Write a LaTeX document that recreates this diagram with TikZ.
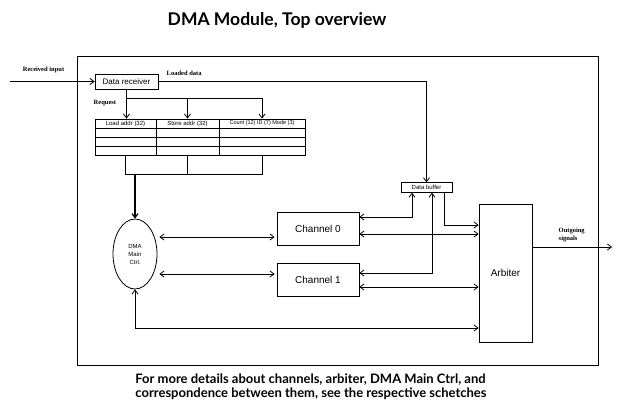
\documentclass[tikz,border=0pt]{standalone}
\usepackage{fontspec}
\setmainfont{Liberation Sans}
\newfontfamily\headfont{Lato}
\newfontfamily\tagfont{Liberation Serif}
\usetikzlibrary{shapes.geometric,arrows.meta,calc}

\begin{document}
\begin{tikzpicture}[x=1pt, y=-1pt, line width=0.8pt,
    blk/.style={draw, rectangle, inner sep=0pt, font=\fontsize{10}{12}\selectfont},
    small/.style={draw, rectangle, inner sep=0pt, font=\fontsize{6}{7}\selectfont},
    tag/.style={font=\tagfont\bfseries\fontsize{6.5}{7.5}\selectfont, align=left},
    arr/.style={-{Straight Barb[length=4pt,width=6pt]}},
    dbl/.style={{Straight Barb[length=4pt,width=6pt]}-{Straight Barb[length=4pt,width=6pt]}}]
    \useasboundingbox (0,0) rectangle (626,420);

    % Title and module frame
    \node [font=\headfont\bfseries\fontsize{17.5}{20}\selectfont] (title) at (277,20) {DMA Module, Top overview};
    \draw (77,56) rectangle (598,365);

    % Input side
    \node [blk, font=\fontsize{8}{9}\selectfont, minimum width=63, minimum height=15] (rcv) at (126.5,81.5) {Data receiver};
    \coordinate (inp) at (10,81.5);
    \draw [arr] (inp) -- (rcv.west);
    \node [tag] (inlbl) at (43.5,70) {Received input};

    % Register table
    \node [small, minimum width=61, minimum height=9] (load) at (125.5,123.5) {Load addr (32)};
    \node [small, minimum width=63, minimum height=9] (store) at (187.5,123.5) {Store addr (32)};
    \node [small, font=\fontsize{5.5}{6}\selectfont, minimum width=86, minimum height=9] (cnt) at (262,123.5) {Count (12) ID (7) Mode (3)};
    \draw (95,128) rectangle (305,155);
    \foreach \y in {137,146}
        \draw (95,\y) -- (305,\y);
    \foreach \x in {156,219}
        \draw (\x,128) -- (\x,155);
    \coordinate (tbot) at (0,155);

    % Request lines
    \coordinate (req) at (126.5,98);
    \draw [arr] (rcv.south) -- (rcv.south |- load.north);
    \draw [arr] (req) -| (store.north);
    \draw [arr] (req) -| (cnt.north);
    \node [tag, anchor=west] (reqlbl) at (90,103) {Request};

    % Main controller
    \node [draw, ellipse, minimum width=44, minimum height=70, inner sep=0pt, align=center, font=\fontsize{6}{8}\selectfont] (dmac) at (135,254) {DMA\\Main\\Ctrl.};
    \coordinate (join) at (135,174);
    \draw (load |- tbot) -- (load |- join) -- (cnt |- join) -- (cnt |- tbot);
    \draw (store |- tbot) -- (store |- join);
    \draw [arr, line width=1.2pt] (join) -- (dmac.north);

    % Channels, buffer and arbiter
    \node [blk, minimum width=82, minimum height=33] (ch0) at (318,228.5) {Channel 0};
    \node [blk, minimum width=82, minimum height=33] (ch1) at (318,279.5) {Channel 1};
    \node [blk, minimum width=53, minimum height=138] (arb) at (505.5,273) {Arbiter};
    \node [small, minimum width=51, minimum height=9.5] (buf) at (426.5,187.5) {Data buffer};

    \draw [arr] (rcv.east) -| (buf.north);
    \node [tag, anchor=west] (ldlbl) at (163,73) {Loaded data};

    \draw [dbl] ($(dmac.east |- ch0.west)+(2,8.5)$) -- ($(ch0.west)+(-2,8.5)$);
    \draw [dbl] ($(dmac.east |- ch1.west)+(2,-5.5)$) -- ($(ch1.west)+(-2,-5.5)$);
    \draw [dbl] ($(ch0.east)+(0,-11.5)$) -| ($(buf.south)+(-14.5,0)$);
    \draw [dbl] ($(ch0.east)+(0,5.5)$) -- ($(arb.west |- ch0.east)+(0,5.5)$);
    \draw [arr] ($(buf.south)+(17.5,0)$) |- ($(arb.west)+(0,-48)$);
    \draw [dbl] ($(ch1.east)+(0,-6.5)$) -| ($(buf.south)+(5.5,0)$);
    \draw [dbl] ($(ch1.east)+(0,7.5)$) -- ($(arb.west |- ch1.east)+(0,7.5)$);
    \draw [dbl] (dmac.south) |- ($(arb.west)+(0,55)$);

    % Output side
    \coordinate (outp) at (612,247);
    \draw [arr] (arb.east |- outp) -- (outp);
    \node [tag, anchor=west] (outlbl) at (555,235) {Outgoing\\signals};

    % Note
    \node [font=\headfont\bfseries\fontsize{13}{14}\selectfont, align=left] (note) at (311,387) {For more details about channels, arbiter, DMA Main Ctrl, and\\correspondence between them, see the respective schetches};
\end{tikzpicture}
\end{document}
